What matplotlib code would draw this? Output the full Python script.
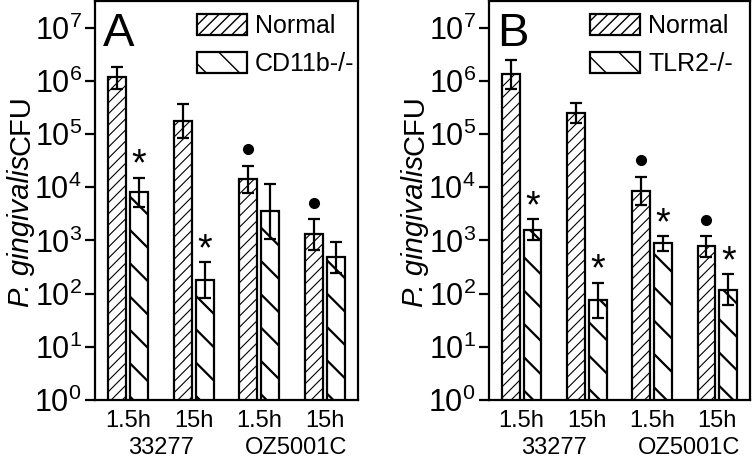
#!/usr/bin/env python3
import matplotlib as mpl
import matplotlib.pyplot as plt
from matplotlib.ticker import NullLocator
from matplotlib.transforms import offset_copy

# x categories
times = ["1.5h", "15h", "1.5h", "15h"]
strains = ["33277", "OZ5001C"]

# panel A: normal vs CD11b-/- (mean, lower and upper error bar ends)
normal_a = [1.2e6, 1.75e5, 1.4e4, 1.3e3]
normal_a_lo = [7.0e5, 8.3e4, 7.7e3, 6.6e2]
normal_a_hi = [1.8e6, 3.7e5, 2.5e4, 2.5e3]
cd11b = [8.0e3, 1.8e2, 3.5e3, 4.9e2]
cd11b_lo = [4.3e3, 8.2e1, 1.05e3, 2.4e2]
cd11b_hi = [1.5e4, 3.9e2, 1.15e4, 9.3e2]
marks_normal_a = ["", "", "dot", "dot"]
marks_cd11b = ["*", "*", "", ""]

# panel B: normal vs TLR2-/-
normal_b = [1.35e6, 2.5e5, 8.5e3, 7.7e2]
normal_b_lo = [7.0e5, 1.6e5, 4.6e3, 4.85e2]
normal_b_hi = [2.5e6, 3.9e5, 1.55e4, 1.2e3]
tlr2 = [1.6e3, 7.6e1, 9.1e2, 1.17e2]
tlr2_lo = [1.0e3, 3.5e1, 6.3e2, 6.2e1]
tlr2_hi = [2.5e3, 1.6e2, 1.2e3, 2.3e2]
marks_normal_b = ["", "", "dot", "dot"]
marks_tlr2 = ["*", "*", "*", "*"]

decades = list(range(8))


def main():
    plt.rcParams["font.family"] = ["Liberation Sans", "DejaVu Sans"]
    plt.rcParams["mathtext.fontset"] = "custom"
    plt.rcParams["mathtext.rm"] = "Liberation Sans"
    plt.rcParams["hatch.color"] = "black"

    fig = plt.figure(figsize=(7.54, 4.58), dpi=100)
    ax_a = fig.add_axes([95 / 754, 58 / 458, 263 / 754, 399 / 458])
    ax_b = fig.add_axes([489 / 754, 58 / 458, 261 / 754, 399 / 458])

    plot_panel(fig, ax_a, "A", "CD11b-/-",
               (normal_a, normal_a_lo, normal_a_hi, marks_normal_a),
               (cd11b, cd11b_lo, cd11b_hi, marks_cd11b))
    plot_panel(fig, ax_b, "B", "TLR2-/-",
               (normal_b, normal_b_lo, normal_b_hi, marks_normal_b),
               (tlr2, tlr2_lo, tlr2_hi, marks_tlr2))

    fig.savefig("out.png", dpi=100)


def plot_panel(fig, ax, letter, ko_label, normal, knockout):
    ax.set_yscale("log")
    width = 0.275
    offset = 0.167
    styles = [
        ("Normal", "///", 0.8, -offset, normal),
        (ko_label, "\\", 1.6, offset, knockout),
    ]
    star_off = offset_copy(ax.transData, fig=fig, y=1.5, units="points")
    dot_off = offset_copy(ax.transData, fig=fig, y=12, units="points")
    for label, hatch, hlw, dx, (vals, lo, hi, marks) in styles:
        xs = [i + dx for i in range(len(vals))]
        bars = ax.bar(xs, vals, width=width, color="white", edgecolor="black",
                      linewidth=1.6, hatch=hatch, label=label, zorder=2)
        for b in bars:
            if hasattr(b, "set_hatch_linewidth"):
                b.set_hatch_linewidth(hlw)
        yerr = [[v - l for v, l in zip(vals, lo)], [h - v for v, h in zip(vals, hi)]]
        ax.errorbar(xs, vals, yerr=yerr, fmt="none", ecolor="black",
                    elinewidth=1.6, capsize=4.5, capthick=1.6, zorder=3)
        for x, h, m in zip(xs, hi, marks):
            if m == "*":
                ax.text(x, h, "*", transform=star_off, ha="center", va="baseline",
                        fontsize=27, zorder=4)
            elif m == "dot":
                ax.plot([x], [h], "o", color="black", markersize=7,
                        transform=dot_off, zorder=4)

    ax.set_ylim(1, 10**7.5)
    ax.set_xlim(-0.5, 3.5)
    ax.set_yticks([10**d for d in decades],
                  [r"$\mathregular{10^{%d}}$" % d for d in decades])
    ax.yaxis.set_minor_locator(NullLocator())
    ax.tick_params(axis="y", direction="out", length=7.5, width=1.6, pad=2, labelsize=22)
    ax.set_xticks(range(len(times)), times)
    ax.tick_params(axis="x", length=0, pad=7, labelsize=17)
    for sp in ax.spines.values():
        sp.set_linewidth(1.6)

    for i, s in enumerate(strains):
        ax.text(0.5 + 2.06 * i, -0.093, s, transform=ax.get_xaxis_transform(),
                ha="center", va="top", fontsize=17)

    # italic species name followed by upright "CFU"
    ylab = ax.set_ylabel("P. gingivalis", fontsize=21, fontstyle="italic")
    ax.yaxis.set_label_coords(-0.228, 0.424)
    ax.annotate("CFU", xy=(0.5, 1.0), xycoords=ylab, rotation=90,
                ha="center", va="bottom", fontsize=21)

    ax.text(0.03, 0.972, letter, transform=ax.transAxes, ha="left", va="top", fontsize=34)

    ax.legend(loc="upper left", bbox_to_anchor=(0.388, 0.967), frameon=False,
              fontsize=18, handlelength=2.0, handleheight=0.9, handletextpad=0.32,
              labelspacing=0.55, borderpad=0, borderaxespad=0)


if __name__ == "__main__":
    main()
